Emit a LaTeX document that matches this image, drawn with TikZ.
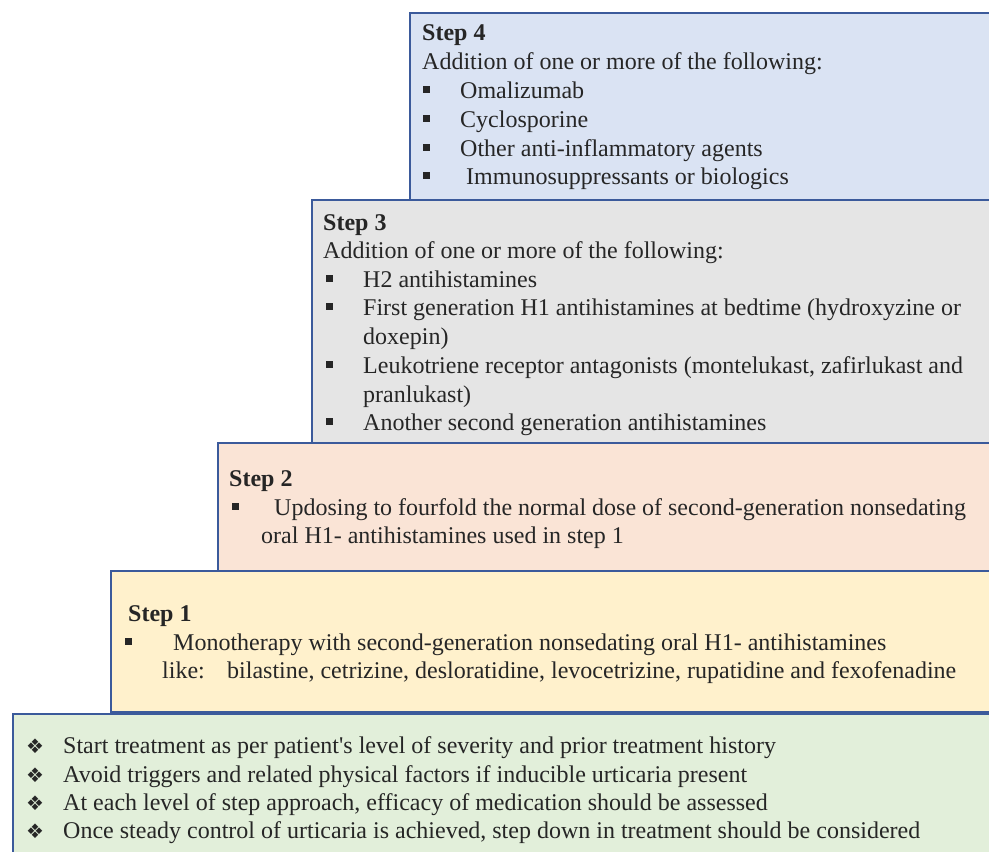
\documentclass[tikz,border=0pt]{standalone}
\usepackage{fontspec}
\setmainfont{Liberation Serif}
\newfontfamily\symfont{DejaVu Sans}
\definecolor{bordc}{RGB}{59,90,155}
\definecolor{fillfour}{RGB}{218,227,243}
\definecolor{fillthree}{RGB}{229,229,229}
\definecolor{filltwo}{RGB}{250,228,214}
\definecolor{fillone}{RGB}{255,241,204}
\definecolor{fillbase}{RGB}{226,239,218}
\definecolor{txtc}{RGB}{38,38,38}
\begin{document}
\begin{tikzpicture}[x=1pt,y=-1pt,
  panel/.style={draw=bordc, line width=1.8pt, rectangle, anchor=north west, inner sep=0pt},
  txt/.style={anchor=base west, inner sep=0pt, text=txtc, font=\fontsize{24}{28}\selectfont},
  head/.style={txt, font=\fontsize{24}{28}\selectfont\bfseries},
  sq/.style={fill=txtc, draw=none, minimum size=7pt, inner sep=0pt, rectangle},
  dia/.style={inner sep=0pt, text=txtc, font=\symfont\fontsize{20}{20}\selectfont}
]
\useasboundingbox (0,0) rectangle (989,852);
\clip (0,0) rectangle (989,852);
% panels
\node[panel, fill=fillbase, minimum width=990pt, minimum height=150pt] (base) at (12,713) {};
\node[panel, fill=fillone, minimum width=890pt, minimum height=141pt] (one) at (110,570) {};
\node[panel, fill=filltwo, minimum width=785pt, minimum height=128pt] (two) at (217,442) {};
\node[panel, fill=fillthree, minimum width=690pt, minimum height=243pt] (three) at (311,199) {};
\node[panel, fill=fillfour, minimum width=590pt, minimum height=187pt] (four) at (409,12) {};
% step 4
\node[head] (h4) at (422,40) {Step 4};
\node[txt] (a4) at (422,69) {Addition of one or more of the following:};
\node[sq] (b41) at (426,89) {};
\node[txt] (t41) at (460,98) {Omalizumab};
\node[sq] (b42) at (426,118) {};
\node[txt] (t42) at (460,127) {Cyclosporine};
\node[sq] (b43) at (426,147) {};
\node[txt] (t43) at (460,156) {Other anti-inflammatory agents};
\node[sq] (b44) at (426,175) {};
\node[txt] (t44) at (466,184) {Immunosuppressants or biologics};
% step 3
\node[head] (h3) at (323,230) {Step 3};
\node[txt] (a3) at (323,258) {Addition of one or more of the following:};
\node[sq] (b31) at (329,278) {};
\node[txt] (t31) at (363,287) {H2 antihistamines};
\node[sq] (b32) at (329,306) {};
\node[txt] (t32) at (363,315) {First generation H1 antihistamines at bedtime (hydroxyzine or};
\node[txt] (t32b) at (363,344) {doxepin)};
\node[sq] (b33) at (329,364) {};
\node[txt] (t33) at (363,373) {Leukotriene receptor antagonists (montelukast, zafirlukast and};
\node[txt] (t33b) at (363,402) {pranlukast)};
\node[sq] (b34) at (329,421) {};
\node[txt] (t34) at (363,430) {Another second generation antihistamines};
% step 2
\node[head] (h2) at (229,486) {Step 2};
\node[sq] (b21) at (235,506) {};
\node[txt] (t21) at (274,515) {Updosing to fourfold the normal dose of second-generation nonsedating};
\node[txt] (t21b) at (261,543) {oral H1- antihistamines used in step 1};
% step 1
\node[head] (h1) at (128,621) {Step 1};
\node[sq] (b11) at (128,641) {};
\node[txt] (t11) at (173,650) {Monotherapy with second-generation nonsedating oral H1- antihistamines};
\node[txt] (t11b) at (162,678) {like:};
\node[txt] (t11c) at (227,678) {bilastine, cetrizine, desloratidine, levocetrizine, rupatidine and fexofenadine};
% base notes
\node[dia] (d1) at (35,746) {❖};
\node[txt] (n1) at (63,753) {Start treatment as per patient\textquotesingle s level of severity and prior treatment history};
\node[dia] (d2) at (35,775) {❖};
\node[txt] (n2) at (63,782) {Avoid triggers and related physical factors if inducible urticaria present};
\node[dia] (d3) at (35,803) {❖};
\node[txt] (n3) at (63,810) {At each level of step approach, efficacy of medication should be assessed};
\node[dia] (d4) at (35,831) {❖};
\node[txt] (n4) at (63,838) {Once steady control of urticaria is achieved, step down in treatment should be considered};
\end{tikzpicture}
\end{document}
